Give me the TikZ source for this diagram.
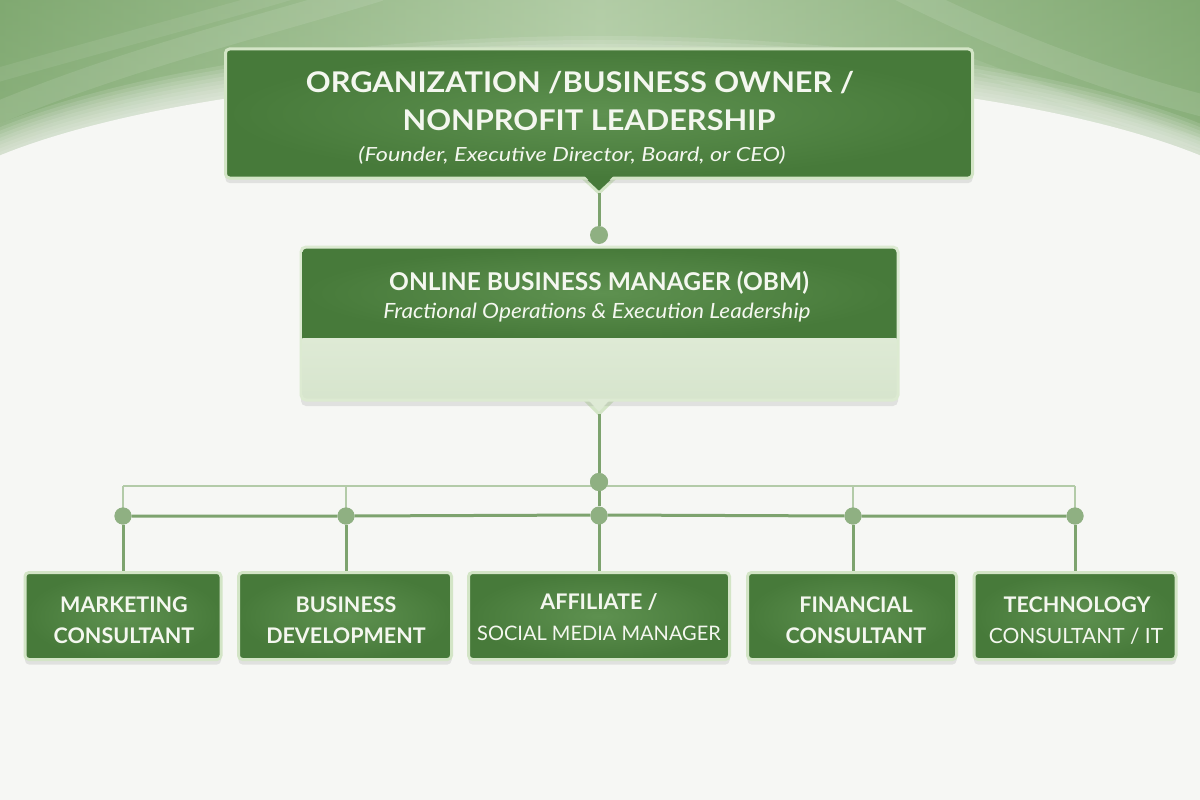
\documentclass[tikz,border=0pt]{standalone}
\usepackage{fontspec}
\usepackage{graphicx}
\setmainfont{Lato}
\usetikzlibrary{shadows}
\definecolor{bg}{HTML}{F6F7F4}
\definecolor{gside}{HTML}{80A971}
\definecolor{gmid}{HTML}{C8DCBD}
\definecolor{dkgreen}{HTML}{477A3A}
\definecolor{mdgreen}{HTML}{5E9150}
\definecolor{bordergreen}{HTML}{D3E5C6}
\definecolor{linegreen}{HTML}{7DA36E}
\definecolor{dotgreen}{HTML}{8FB082}
\definecolor{thingreen}{HTML}{B3CBA8}
\definecolor{lightfill}{HTML}{DEEAD5}
\definecolor{txt}{HTML}{F4F7EF}
\newcommand{\hsc}[2]{\scalebox{#1}[1]{#2}}
\tikzset{
  greenbox/.style={rectangle, rounded corners=4pt, draw=bordergreen, line width=3pt,
    inner color=mdgreen, outer color=dkgreen, text=txt, align=center, inner sep=0pt,
    drop shadow={opacity=0.18, shadow xshift=0pt, shadow yshift=-5pt}},
  conn/.style={draw=linegreen, line width=3pt},
  thin/.style={draw=thingreen, line width=1.2pt},
  dot/.style={circle, fill=dotgreen, inner sep=0pt, minimum size=#1},
  dot/.default=18pt,
  lbl/.style={text=txt, align=center, inner sep=0pt},
  pointer/.style={fill=dkgreen, draw=bordergreen, line width=3pt, line join=round},
  bold/.style={font=\bfseries\fontsize{21.5}{24}\selectfont},
  reg/.style={font=\fontsize{#1}{24}\selectfont}
}
\begin{document}
\begin{tikzpicture}[x=1pt,y=-1pt]
\useasboundingbox (0,0) rectangle (1200,800);
% background
\fill[bg] (0,0) rectangle (1200,800);
\shade[left color=gside, right color=gside, middle color=gmid] (0,0) rectangle (1200,280);
\shade[top color=gside, bottom color=gmid, opacity=0.3] (0,0) rectangle (1200,280);
\draw[white, opacity=0.1, line width=22pt] (-20,120) .. controls (120,60) and (250,30) .. (380,-10);
\draw[white, opacity=0.08, line width=14pt] (-20,80) .. controls (120,40) and (200,20) .. (300,-10);
\draw[white, opacity=0.1, line width=22pt] (1220,110) .. controls (1100,80) and (1000,40) .. (900,-10);
\draw[white, opacity=0.08, line width=12pt] (1220,150) .. controls (1120,120) and (1040,90) .. (960,60);
\foreach \r in {-36,-32,...,-4} {
  \fill[bg, opacity=0.13] (600,244) ellipse ({700-\r} and {172-\r});
}
\fill[bg] (600,244) ellipse (700 and 172);
\fill[bg] (0,244) rectangle (1200,800);

% top box
\fill[pointer] (583,178) -- (599,193) -- (615,178) -- cycle;
\node[greenbox, minimum width=747pt, minimum height=129pt] (top) at (599,113.5) {};
\fill[dkgreen] (584.5,176) -- (599,190) -- (613.5,176) -- cycle;
\node[lbl, font=\bfseries\fontsize{28.5}{30}\selectfont] (t1) at (580,83) {\hsc{1.08}{ORGANIZATION /BUSINESS OWNER /}};
\node[lbl, font=\bfseries\fontsize{28.5}{30}\selectfont] (t2) at (589,120) {\hsc{1.08}{NONPROFIT LEADERSHIP}};
\node[lbl, font=\itshape\fontsize{19.5}{22}\selectfont] (t3) at (572,155) {\hsc{1.2}{(Founder, Executive Director, Board, or CEO)}};

% OBM box
\fill[pointer, fill=lightfill] (583,398) -- (599,414) -- (615,398) -- cycle;
\node[rectangle, rounded corners=5pt, draw=bordergreen!80!white, line width=3pt, fill=lightfill,
  minimum width=597pt, minimum height=153pt, inner sep=0pt,
  drop shadow={opacity=0.18, shadow xshift=0pt, shadow yshift=-6pt}] (obm) at (599.5,323.5) {};
\fill[lightfill] (584.5,396) -- (599,411) -- (613.5,396) -- cycle;
\begin{scope}
\clip[rounded corners=4pt] (302.5,248.5) rectangle (896.5,398.5);
\shade[inner color=mdgreen, outer color=dkgreen] (302,248) rectangle (897,338);
\shade[top color=lightfill, bottom color=lightfill!92!gside] (302,338) rectangle (897,399);
\end{scope}
\node[lbl, font=\bfseries\fontsize{24.5}{26}\selectfont] (o1) at (599,283) {ONLINE BUSINESS MANAGER (OBM)};
\node[lbl, font=\itshape\fontsize{21}{22}\selectfont] (o2) at (597,313) {\hsc{1.08}{Fractional Operations \& Execution Leadership}};

% connectors
\coordinate (tp) at (599,193);
\node[dot] (d0) at (599,235) {};
\draw[conn] (tp) -- (d0);
\coordinate (op) at (599,414);
\node[dot] (d1) at (599,482) {};
\draw[conn] (op) -- (d1);

% bottom boxes
\node[greenbox, minimum width=196pt, minimum height=87pt] (b1) at (123,616) {};
\node[greenbox, minimum width=213pt, minimum height=87pt] (b2) at (345,616) {};
\node[greenbox, minimum width=261pt, minimum height=87pt] (b3) at (599,616) {};
\node[greenbox, minimum width=209pt, minimum height=87pt] (b4) at (852,616) {};
\node[greenbox, minimum width=202pt, minimum height=87pt] (b5) at (1075,616) {};

\node[lbl, bold] (l1a) at (124,605) {MARKETING};
\node[lbl, bold] (l1b) at (124,636) {CONSULTANT};
\node[lbl, bold] (l2a) at (346,605) {BUSINESS};
\node[lbl, bold] (l2b) at (346,636) {DEVELOPMENT};
\node[lbl, bold] (l3a) at (599,602) {AFFILIATE /};
\node[lbl, reg=20] (l3b) at (599,633) {SOCIAL MEDIA MANAGER};
\node[lbl, bold] (l4a) at (856,605) {FINANCIAL};
\node[lbl, bold] (l4b) at (856,636) {CONSULTANT};
\node[lbl, bold] (l5a) at (1077,605) {TECHNOLOGY};
\node[lbl, reg=21] (l5b) at (1076,636) {CONSULTANT / IT};

% thin bus
\coordinate (u1) at (123,486);
\coordinate (u2) at (346,486);
\coordinate (u4) at (853,486);
\coordinate (u5) at (1075,486);
\draw[thin] (u1) -- (u5);
\draw[thin] (u1) -- ++(0,22);
\draw[thin] (u2) -- ++(0,22);
\draw[thin] (u4) -- ++(0,22);
\draw[thin] (u5) -- ++(0,22);

% main bus
\node[dot=17pt] (e1) at (123,516) {};
\node[dot=17pt] (e2) at (346,516) {};
\node[dot=17pt] (e3) at (599,515) {};
\node[dot=17pt] (e4) at (853,516) {};
\node[dot=17pt] (e5) at (1075,516) {};
\draw[conn] (e1) -- (e2) -- (e3) -- (e4) -- (e5);
\draw[conn] (d1) -- (e3);
\foreach \i in {1,...,5} { \draw[conn] (e\i) -- (e\i |- b\i.north); }
\node[dot] at (599,482) {};
\foreach \x in {123,346,599,853,1075} { \node[dot=17pt] at (\x,516) {}; }
\end{tikzpicture}
\end{document}
